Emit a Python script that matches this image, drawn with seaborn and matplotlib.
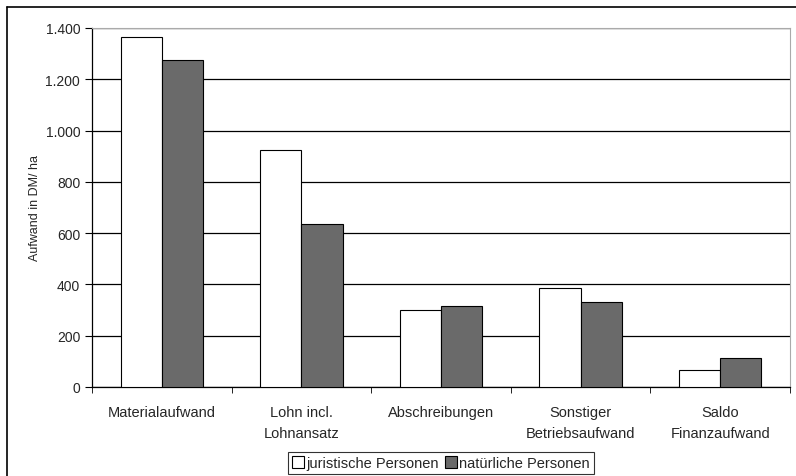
import pandas as pd
import matplotlib.pyplot as plt
import seaborn as sns
from matplotlib.lines import Line2D
from matplotlib.ticker import FuncFormatter, FixedLocator

categories = ['Materialaufwand', 'Lohn incl.\nLohnansatz', 'Abschreibungen',
              'Sonstiger\nBetriebsaufwand', 'Saldo\nFinanzaufwand']
juristische = [1365, 925, 300, 385, 65]
natuerliche = [1275, 635, 315, 330, 115]
series_names = ['juristische Personen', 'natürliche Personen']
y_ticks = [0, 200, 400, 600, 800, 1000, 1200, 1400]

df = pd.DataFrame({
    'Kategorie': categories * 2,
    'Wert': juristische + natuerliche,
    'Gruppe': [series_names[0]] * len(categories) + [series_names[1]] * len(categories),
})

sns.set_style('white')
plt.rcParams['font.family'] = ['Liberation Sans', 'DejaVu Sans']

fig = plt.figure(figsize=(7.96, 4.77), dpi=100)
ax = fig.add_axes([92 / 796, 1 - 388 / 477, (790 - 92) / 796, (388 - 29) / 477])

sns.barplot(data=df, x='Kategorie', y='Wert', hue='Gruppe', ax=ax,
            palette=['white', '#6a6a6a'], edgecolor='black', linewidth=0.8,
            width=0.59, saturation=1, legend=True, zorder=3)

ax.set_xlim(-0.5, 4.5)
ax.set_ylim(0, 1400)
ax.yaxis.set_major_locator(FixedLocator(y_ticks))
ax.yaxis.set_major_formatter(FuncFormatter(lambda v, p: f'{int(v):,}'.replace(',', '.')))
ax.grid(axis='y', color='black', linewidth=0.9, zorder=0)
ax.set_axisbelow(True)

# tick marks between categories
ax.set_xticks(range(len(categories)))
ax.set_xticklabels(categories, fontsize=10.5, linespacing=1.65)
ax.set_xticks([-0.5, 0.5, 1.5, 2.5, 3.5, 4.5], minor=True)
ax.tick_params(axis='x', which='major', length=0, pad=13)
ax.tick_params(axis='x', which='minor', length=4, direction='out', bottom=True, color='black')
ax.tick_params(axis='y', length=5, direction='out', left=True, labelsize=10, color='black')

ax.set_xlabel('')
ax.set_ylabel('Aufwand in DM/ ha', fontsize=9, labelpad=3)

for side in ['left', 'bottom']:
    ax.spines[side].set_color('black')
    ax.spines[side].set_linewidth(0.9)
for side in ['top', 'right']:
    ax.spines[side].set_color('#aaaaaa')
    ax.spines[side].set_linewidth(0.8)

handles, labels = ax.get_legend_handles_labels()
ax.legend_.remove()
leg = fig.legend(handles, labels, loc='lower center', bbox_to_anchor=(0.554, -0.012),
                 ncol=2, frameon=True, fancybox=False, edgecolor='black',
                 fontsize=10.5, handlelength=0.8, handleheight=0.8, handletextpad=0.2,
                 columnspacing=0.4, borderpad=0.3)
leg.get_frame().set_linewidth(0.8)

# outer frame of the figure
fig.add_artist(Line2D([7 / 796, 1], [1 - 8 / 477, 1 - 8 / 477], transform=fig.transFigure,
                      color='black', linewidth=1.2))
fig.add_artist(Line2D([7 / 796, 7 / 796], [0, 1 - 8 / 477], transform=fig.transFigure,
                      color='black', linewidth=1.2))

fig.savefig('out.png', dpi=100)
